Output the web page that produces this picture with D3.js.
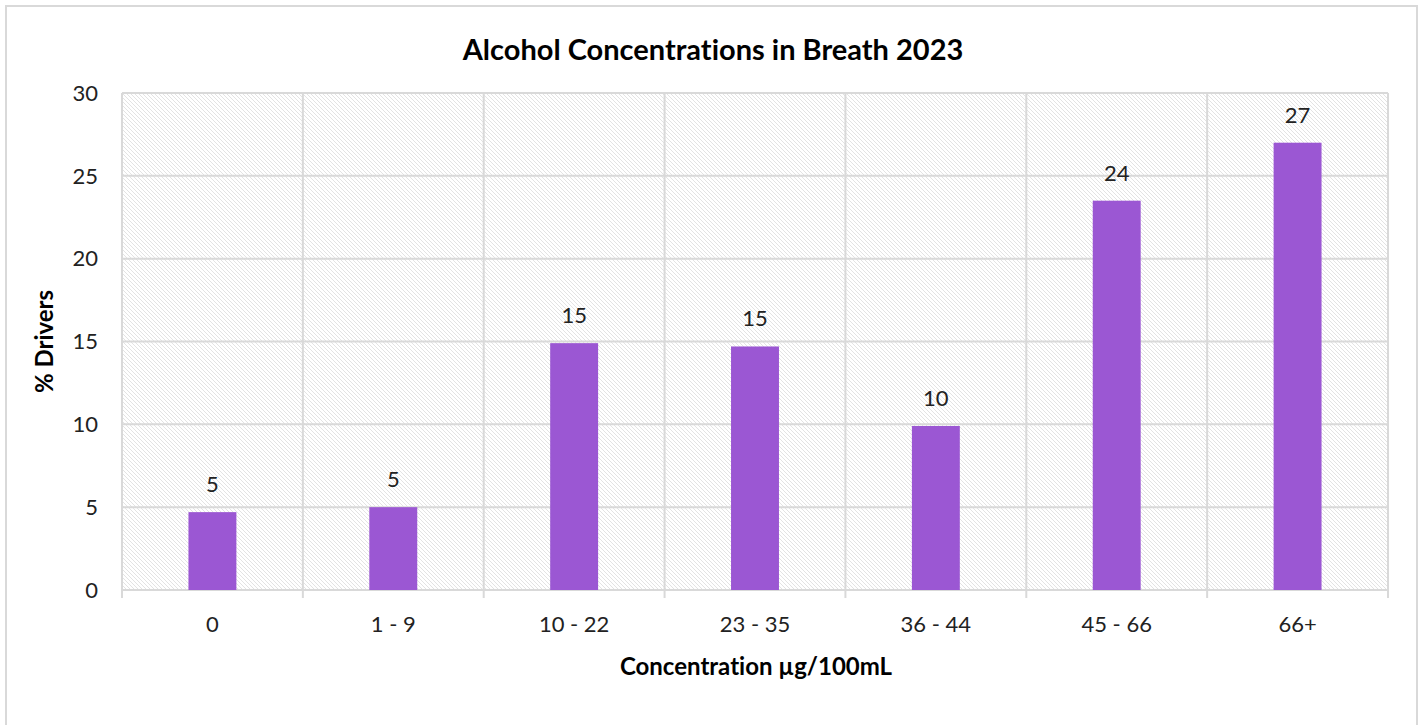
<!DOCTYPE html>
<html lang="en">
<head>
<meta charset="utf-8">
<title>Alcohol Concentrations in Breath 2023</title>
<script src="https://d3js.org/d3.v7.min.js"></script>
<style>
  body { margin: 0; background: #fff; }
  svg { font-family: Lato, "Noto Sans", sans-serif; font-variant-ligatures: none; }
</style>
</head>
<body>
<svg id="chart" width="1422" height="725"></svg>
<script>
// data
var categories = ["0", "1 - 9", "10 - 22", "23 - 35", "36 - 44", "45 - 66", "66+"];
var percentDrivers = [4.7, 5.0, 14.9, 14.7, 9.9, 23.5, 27.0];
var yTicks = [0, 5, 10, 15, 20, 25, 30];

var margin = { top: 93, right: 34, bottom: 135, left: 122 },
  width = 1422 - margin.left - margin.right,
  height = 725 - margin.top - margin.bottom;

var svg = d3.select("#chart");

// outer frame
svg.append("rect")
  .attr("x", 6).attr("y", 6)
  .attr("width", 1411).attr("height", 725)
  .attr("fill", "#fff")
  .attr("stroke", "#d9d9d9").attr("stroke-width", 2);

// hatch pattern for plot background
var pat = svg.append("defs").append("pattern")
  .attr("id", "hatch")
  .attr("patternUnits", "userSpaceOnUse")
  .attr("width", 4).attr("height", 4);
pat.append("path")
  .attr("d", "M-1,-1 L5,5 M-1,3 L1,5 M3,-1 L5,1")
  .attr("stroke", "#e3e3e3").attr("stroke-width", 1);

var g = svg.append("g")
  .attr("transform", "translate(" + margin.left + "," + margin.top + ")");

var x = d3.scaleBand().domain(categories).range([0, width]).paddingInner(0.735).paddingOuter(0.3675);
var xCat = d3.scaleBand().domain(categories).range([0, width]);
var y = d3.scaleLinear().domain([0, 30]).range([height, 0]);

g.append("rect")
  .attr("width", width).attr("height", height)
  .attr("fill", "url(#hatch)");

// horizontal gridlines
g.selectAll(".hgrid")
  .data(yTicks)
  .enter().append("line")
  .attr("x1", 0).attr("x2", width)
  .attr("y1", d => y(d)).attr("y2", d => y(d))
  .attr("stroke", "#d9d9d9").attr("stroke-width", 2);

// vertical gridlines at category boundaries (they run into tick marks below)
var bounds = categories.map(c => xCat(c)).concat([width]);
g.selectAll(".vgrid")
  .data(bounds)
  .enter().append("line")
  .attr("x1", d => d).attr("x2", d => d)
  .attr("y1", 0).attr("y2", height + 8)
  .attr("stroke", "#d9d9d9").attr("stroke-width", 2);

// bars
g.selectAll(".bar")
  .data(percentDrivers)
  .enter().append("rect")
  .attr("x", (d, i) => x(categories[i]))
  .attr("y", d => y(d))
  .attr("width", x.bandwidth())
  .attr("height", d => height - y(d))
  .attr("fill", "#9b57d3");

// value labels
g.selectAll(".val")
  .data(percentDrivers)
  .enter().append("text")
  .attr("x", (d, i) => x(categories[i]) + x.bandwidth() / 2)
  .attr("y", d => y(d) - 20)
  .attr("text-anchor", "middle")
  .attr("font-size", "22px")
  .attr("fill", "#222")
  .text(d => Math.round(d));

// y tick labels
g.selectAll(".ytick")
  .data(yTicks)
  .enter().append("text")
  .attr("x", -24)
  .attr("y", d => y(d))
  .attr("dy", "0.35em")
  .attr("text-anchor", "end")
  .attr("font-size", "22px")
  .attr("fill", "#222")
  .text(d => d);

// x tick labels
g.selectAll(".xtick")
  .data(categories)
  .enter().append("text")
  .attr("x", d => xCat(d) + xCat.bandwidth() / 2)
  .attr("y", height + 42)
  .attr("text-anchor", "middle")
  .attr("font-size", "22px")
  .attr("fill", "#222")
  .text(d => d);

// titles
svg.append("text")
  .attr("x", 713).attr("y", 60)
  .attr("text-anchor", "middle")
  .attr("font-size", "29px").attr("font-weight", "bold")
  .attr("fill", "#000")
  .text("Alcohol Concentrations in Breath 2023");

svg.append("text")
  .attr("x", margin.left + width / 2 + 1).attr("y", 675)
  .attr("text-anchor", "middle")
  .attr("font-size", "24px").attr("font-weight", "bold")
  .attr("fill", "#000")
  .text("Concentration µg/100mL");

svg.append("text")
  .attr("transform", "translate(53," + (margin.top + height / 2) + ") rotate(-90)")
  .attr("text-anchor", "middle")
  .attr("font-size", "24px").attr("font-weight", "bold")
  .attr("fill", "#000")
  .text("% Drivers");
</script>
</body>
</html>
